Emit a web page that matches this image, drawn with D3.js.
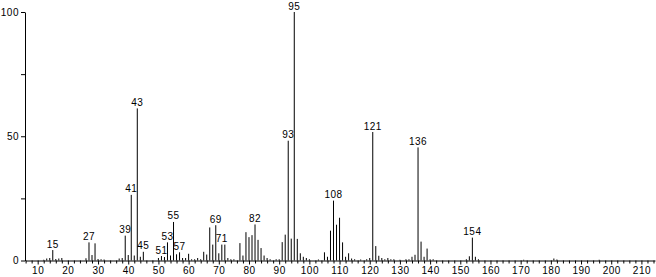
<!DOCTYPE html>
<html>
<head>
<meta charset="utf-8">
<script src="https://cdn.jsdelivr.net/npm/d3@7"></script>
<style>
  body { margin: 0; background: #fff; }
  svg text { font-family: "Liberation Sans", "DejaVu Sans", sans-serif; font-size: 10px; fill: #000; }
</style>
</head>
<body>
<svg id="chart"></svg>
<script>
var width = 656;
var height = 277;

// m/z values and relative intensities
var mz = [12, 13, 14, 15, 16, 17, 18, 26, 27, 28, 29, 30, 31, 32,
  37, 38, 39, 40, 41, 42, 43, 44, 45, 50, 51, 52, 53, 54, 55, 56, 57, 58, 59, 60,
  61, 62, 63, 64, 65, 66, 67, 68, 69, 70, 71, 72, 73, 74, 75, 77, 78, 79, 80,
  81, 82, 83, 84, 85, 86, 87, 89, 90, 91, 92, 93, 94, 95, 96, 97, 98, 99, 100,
  103, 105, 106, 107, 108, 109, 110, 111, 112, 113, 114, 115, 117, 119, 120, 121, 122, 123,
  124, 125, 126, 127, 128, 130, 132, 133, 134, 135, 136, 137, 138, 139, 140, 141,
  152, 153, 154, 155, 156, 171, 181, 182, 196];
var intensity = [0.3, 0.8, 1.0, 4.2, 0.6, 0.8, 1.0, 0.9, 7.3, 2.2, 6.9, 0.6, 0.5, 0.4,
  0.8, 1.0, 10.0, 2.2, 26.4, 2.0, 61.2, 1.5, 3.5, 1.0, 1.8, 1.4, 7.3, 2.0, 15.5, 2.5, 3.3, 1.0, 1.0, 2.7,
  0.5, 0.5, 1.0, 0.5, 3.5, 2.4, 13.3, 6.4, 14.2, 2.9, 6.4, 6.4, 1.0, 0.5, 0.5, 7.0, 2.0, 11.4, 9.4,
  10.2, 14.5, 8.3, 5.0, 2.0, 1.0, 0.5, 0.5, 0.5, 7.4, 10.4, 48.2, 8.8, 100, 8.7, 2.9, 1.5, 1.0, 0.5,
  0.4, 3.3, 1.5, 12.0, 24.1, 14.4, 17.2, 7.3, 1.5, 2.9, 0.8, 0.5, 0.4, 0.5, 1.0, 51.7, 5.8, 1.9,
  1.0, 0.5, 1.0, 0.5, 0.5, 0.3, 0.5, 0.5, 1.5, 2.3, 45.5, 7.6, 1.5, 4.8, 0.5, 0.5,
  0.5, 1.7, 9.2, 1.5, 0.5, 0.3, 0.8, 0.4, 0.3];

// peaks that carry an m/z label
var labeled = [15, 27, 39, 41, 43, 45, 51, 53, 55, 57, 69, 71, 82, 93, 95, 108, 121, 136, 154];

var xMajor = d3.range(10, 211, 10);
var xMinor = d3.range(6, 215, 2).filter(function(v) { return v % 10 != 0; });
var yTicks = [0, 25, 50, 75, 100];
var yLabels = [0, 50, 100];

var svg = d3.select("#chart")
  .attr("width", width)
  .attr("height", height);

var x = d3.scaleLinear().domain([5.8, 214.5]).range([25, 655]);
var y = d3.scaleLinear().domain([0, 100]).range([260.5, 12]);

var peaks = mz.map(function(m, i) {
  return {mz: m, value: intensity[i]};
});

// sticks
svg.append("g")
  .selectAll("line")
  .data(peaks)
  .enter()
  .append("line")
  .attr("x1", function(d) { return x(d.mz); })
  .attr("x2", function(d) { return x(d.mz); })
  .attr("y1", y(0))
  .attr("y2", function(d) { return y(d.value); })
  .style("stroke", "#000")
  .style("stroke-width", 1);

// peak labels
svg.append("g")
  .selectAll("text")
  .data(peaks.filter(function(d) { return labeled.indexOf(d.mz) >= 0; }))
  .enter()
  .append("text")
  .attr("x", function(d) { return x(d.mz); })
  .attr("y", function(d) { return y(d.value) - 2.5; })
  .attr("text-anchor", "middle")
  .style("letter-spacing", "0.5px")
  .text(function(d) { return d.mz; });

// x axis: minor then major
svg.append("g")
  .attr("transform", "translate(0," + y(0) + ")")
  .call(d3.axisBottom(x).tickValues(xMinor).tickSize(3).tickSizeOuter(0).tickFormat(""))
  .call(function(g) { g.select(".domain").remove(); });

var xAxis = svg.append("g")
  .attr("transform", "translate(0," + y(0) + ")")
  .call(d3.axisBottom(x).tickValues(xMajor).tickSize(4).tickSizeOuter(0).tickPadding(2));

// y axis
var yAxis = svg.append("g")
  .attr("transform", "translate(" + x.range()[0] + ",0)")
  .call(d3.axisLeft(y).tickValues(yTicks).tickSize(4).tickSizeOuter(0).tickPadding(2)
    .tickFormat(function(d) { return yLabels.indexOf(d) >= 0 ? d : ""; }));

svg.selectAll(".tick line, .domain").style("stroke", "#000").style("stroke-width", 1);
svg.selectAll(".tick text")
  .style("font-family", "'Liberation Sans', 'DejaVu Sans', sans-serif")
  .style("font-size", "10px")
  .style("letter-spacing", "0.5px");
</script>
</body>
</html>
